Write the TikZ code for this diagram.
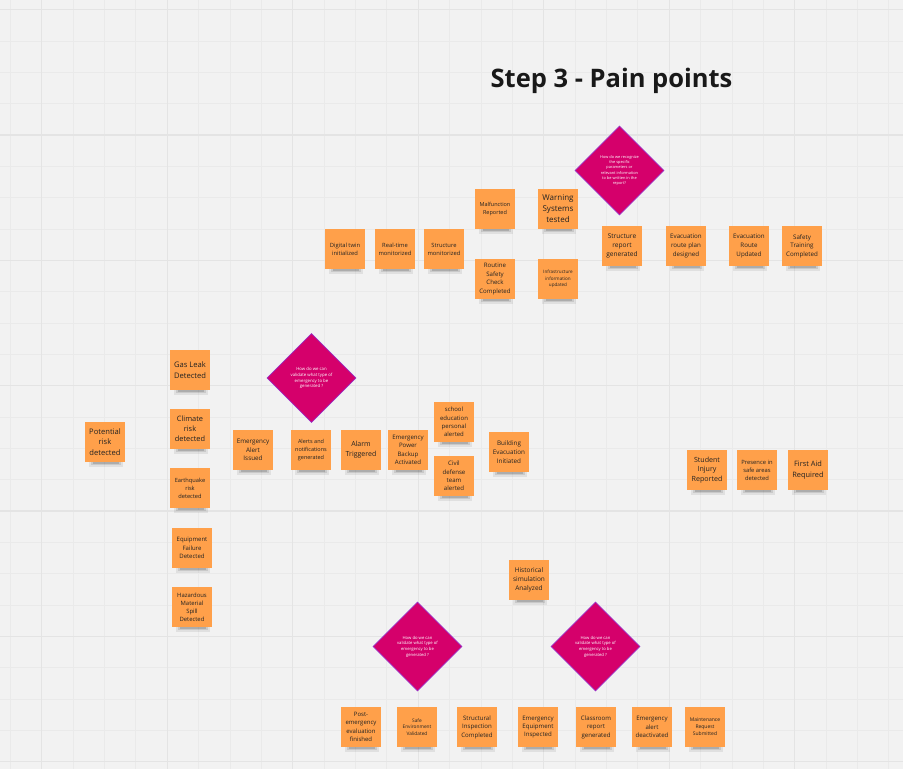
\documentclass[tikz,border=0pt]{standalone}
\usepackage{fontspec}
\setmainfont{Open Sans}
\usetikzlibrary{shapes.geometric}
\definecolor{bg}{HTML}{F2F2F2}
\definecolor{gridminor}{HTML}{EAEAEA}
\definecolor{gridmajor}{HTML}{E4E4E4}
\definecolor{stickyfill}{HTML}{FFA04A}
\definecolor{stickytext}{HTML}{222222}
\definecolor{qmag}{HTML}{D5006B}
\definecolor{qedge}{HTML}{9A2FC4}
\tikzset{
  note/.style={fill=stickyfill, minimum width=39.5pt, minimum height=39.5pt, inner sep=0pt,
    text=stickytext, align=center},
  qshape/.style={diamond, fill=qmag, draw=qedge, line width=0.6pt, minimum width=89pt,
    minimum height=89pt, inner sep=0pt, text=white, align=center},
  gminor/.style={draw=gridminor, line width=0.9pt},
  gmajor/.style={draw=gridmajor, line width=1.1pt},
  shade1/.style={fill=black, opacity=0.07},
  shade2/.style={fill=black, opacity=0.10},
  shade3/.style={fill=black, opacity=0.14},
}
\newcommand{\stk}[5]{%
  \begin{scope}[shift={(#2,#3)}]
    \fill[shade1] (-16,18) rectangle (18,24.5);
    \fill[shade2] (-14,18) rectangle (16,23);
    \fill[shade3] (-12,18) rectangle (14,21.5);
  \end{scope}
  \node[note, font=\fontsize{#4}{\fpeval{#4*1.38}}\selectfont] (#1) at (#2,#3) {#5};
}
\newcommand{\qdm}[5]{%
  \node[qshape, font=\fontsize{#4}{\fpeval{#4*1.35}}\selectfont] (#1) at (#2,#3) {#5};
}
\begin{document}
\begin{tikzpicture}[x=1pt,y=-1pt]
\useasboundingbox (0,0) rectangle (903,769);
\fill[bg] (0,0) rectangle (903,769);
% grid
\foreach \k in {0,...,28} {
  \draw[gminor] ({10.3+31.38*\k},0) -- ({10.3+31.38*\k},769);
}
\foreach \k in {0,...,24} {
  \draw[gminor] (0,{9.7+31.33*\k}) -- (903,{9.7+31.33*\k});
}
\foreach \k in {1,5,...,25} {
  \draw[gmajor] ({10.3+31.38*\k},0) -- ({10.3+31.38*\k},769);
}
\foreach \k in {0,4,...,24} {
  \draw[gmajor] (0,{9.7+31.33*\k}) -- (903,{9.7+31.33*\k});
}
% title
\node[font=\fontsize{25.5}{30}\selectfont\bfseries, text=black!90, anchor=base] (title) at (611.5,87) {Step 3 - Pain points};

% top area
\stk{dt}{345}{249}{5.8}{Digital twin\\initialized}
\stk{rt}{395}{249}{5.8}{Real-time\\monitorized}
\stk{sm}{444}{249}{5.8}{Structure\\monitorized}
\stk{mr}{495}{209}{5.5}{Malfunction\\Reported}
\stk{rs}{495}{279}{6.1}{Routine\\Safety\\Check\\Completed}
\stk{ws}{558}{209}{8}{Warning\\Systems\\tested}
\stk{iu}{558}{279}{4.6}{Infrastructure\\information\\updated}
\qdm{q1}{619.5}{170.5}{3.9}{How do we recognize\\the specific\\parameters or\\relevant information\\to be written in the\\report?}
\stk{sr}{622}{246}{6.6}{Structure\\report\\generated}
\stk{ep}{686}{246}{6.2}{Evacuation\\route plan\\designed}
\stk{eu}{749}{246}{6.2}{Evacuation\\Route\\Updated}
\stk{st}{802}{246}{6.2}{Safety\\Training\\Completed}

% middle area
\stk{pr}{105}{442}{7.6}{Potential\\risk\\detected}
\stk{gl}{190}{370}{7.6}{Gas Leak\\Detected}
\stk{cr}{190}{429}{7.4}{Climate\\risk\\detected}
\stk{eq}{190}{488}{5.7}{Earthquake\\risk\\detected}
\stk{ef}{192}{548}{6}{Equipment\\Failure\\Detected}
\stk{hm}{192}{607}{5.9}{Hazardous\\Material\\Spill\\Detected}
\qdm{q2}{311.5}{378}{4.3}{How do we can\\validate what type of\\emergency to be\\generated ?}
\stk{ea}{253}{450}{6.3}{Emergency\\Alert\\Issued}
\stk{an}{311}{450}{5.5}{Alerts and\\notifications\\generated}
\stk{at}{361}{450}{7}{Alarm\\Triggered}
\stk{pb}{408}{450}{6.1}{Emergency\\Power\\Backup\\Activated}
\stk{se}{454}{422}{6}{school\\education\\personal\\alerted}
\stk{cd}{454}{476}{6.1}{Civil\\defense\\team\\alerted}
\stk{be}{509}{452}{6.3}{Building\\Evacuation\\Initiated}
\stk{si}{707}{470}{7.1}{Student\\Injury\\Reported}
\stk{ps}{757}{470}{5.8}{Presence in\\safe areas\\detected}
\stk{fa}{808}{470}{7.4}{First Aid\\Required}

% bottom area
\stk{hs}{529}{580}{6.5}{Historical\\simulation\\Analyzed}
\qdm{q3}{417.5}{646.5}{4.2}{How do we can\\validate what type of\\emergency to be\\generated ?}
\qdm{q4}{595.5}{646.5}{4.2}{How do we can\\validate what type of\\emergency to be\\generated ?}
\stk{pe}{361}{727}{6}{Post-\\emergency\\evaluation\\finished}
\stk{sv}{417}{727}{4.8}{Safe\\Environment\\Validated}
\stk{sc}{477}{727}{6.1}{Structural\\Inspection\\Completed}
\stk{ei}{538}{727}{6.1}{Emergency\\Equipment\\Inspected}
\stk{cg}{596}{727}{6.1}{Classroom\\report\\generated}
\stk{ad}{652}{727}{6.1}{Emergency\\alert\\deactivated}
\stk{mq}{705}{727}{5}{Maintenance\\Request\\Submitted}
\end{tikzpicture}
\end{document}
